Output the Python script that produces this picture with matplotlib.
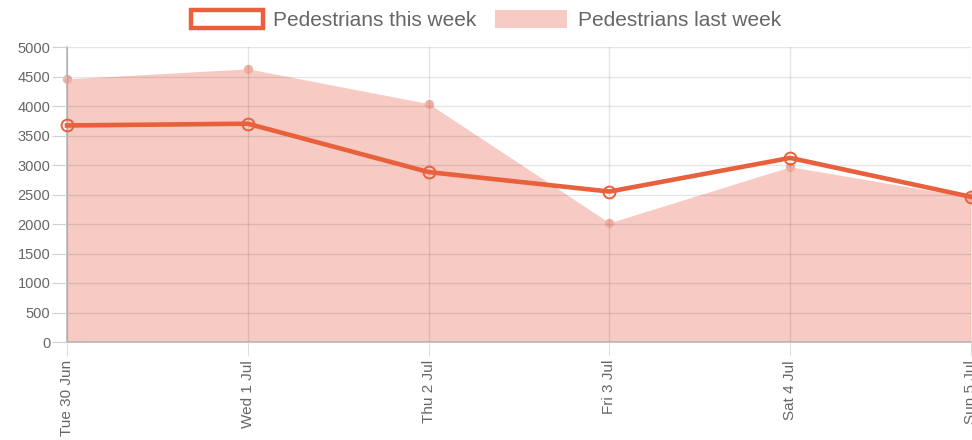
""" pedestrians chart """
import matplotlib
matplotlib.use('Agg')
import matplotlib.pyplot as plt
from matplotlib.patches import Patch

days = ['Tue 30 Jun', 'Wed 1 Jul', 'Thu 2 Jul', 'Fri 3 Jul', 'Sat 4 Jul', 'Sun 5 Jul']
this_week = [3670, 3700, 2880, 2550, 3120, 2460]
last_week = [4460, 4630, 4040, 2020, 2970, 2450]

line_col = '#e8603c'
fill_col = '#f7cbc3'
text_col = '#666666'

plt.rcParams['font.family'] = ['Liberation Sans', 'DejaVu Sans']

fig = plt.figure(figsize=(9.72, 4.4), dpi=100)
ax = fig.add_axes([67 / 972, 1 - 342 / 440, (971 - 67) / 972, (342 - 47) / 440])

x = list(range(len(days)))

# 上周：填充面积
ax.fill_between(x, last_week, 0, color=fill_col, lw=0, zorder=1)
ax.scatter(x, last_week, s=45, color='#f2b0a5', lw=0, zorder=2, clip_on=False)

# 本周：粗线 + 空心点
ax.plot(x, this_week, color=line_col, lw=3.3, zorder=3, clip_on=False,
        marker='o', markersize=8.5, markerfacecolor='none',
        markeredgecolor=line_col, markeredgewidth=1.4)

ax.set_xlim(0, len(days) - 1)
ax.set_ylim(0, 5000)
ax.set_yticks(range(0, 5001, 500))
ax.set_xticks(x)
ax.set_xticklabels(days, rotation=90, fontsize=11, color=text_col)
ax.tick_params(axis='y', labelsize=10.5, labelcolor=text_col, length=11, color='#d0d0d0', pad=1)
ax.tick_params(axis='x', length=10, color='#dddddd', pad=3)

ax.grid(True, color='#000000', alpha=0.1, lw=1)
ax.set_axisbelow(False)
for side in ['top', 'right']:
    ax.spines[side].set_visible(False)
for side in ['left', 'bottom']:
    ax.spines[side].set_color('#bbbbbb')
    ax.spines[side].set_linewidth(1.2)

handles = [Patch(facecolor='white', edgecolor=line_col, lw=3.2),
           Patch(facecolor=fill_col, edgecolor='none')]
fig.legend(handles, ['Pedestrians this week', 'Pedestrians last week'],
           loc='upper center', bbox_to_anchor=(0.5, 1.02), ncol=2, frameon=False,
           fontsize=15, labelcolor=text_col, handlelength=3.45, handleheight=0.95,
           columnspacing=0.9, handletextpad=0.5)

fig.savefig('out.png', dpi=100)
